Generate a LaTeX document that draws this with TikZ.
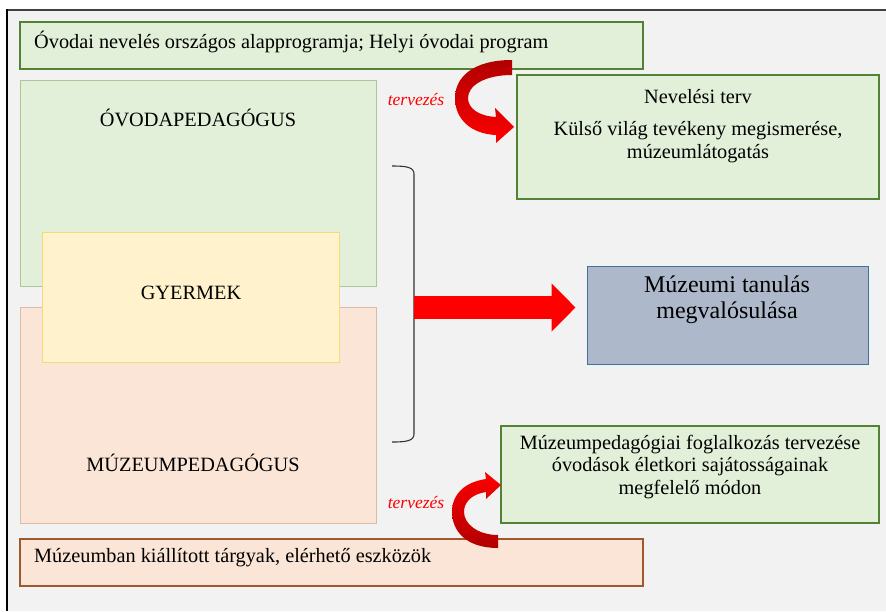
\documentclass[tikz,border=0pt]{standalone}
\usepackage{fontspec}
\setmainfont{Liberation Serif}
\usetikzlibrary{arrows.meta}
\definecolor{lapgray}{HTML}{F2F2F2}
\definecolor{zoldfill}{HTML}{E2F0D9}
\definecolor{zoldline}{HTML}{548235}
\definecolor{zoldhalv}{HTML}{A9C79B}
\definecolor{barackfill}{HTML}{FBE5D6}
\definecolor{barackhalv}{HTML}{D9BBA8}
\definecolor{barackline}{HTML}{A0582F}
\definecolor{sargafill}{HTML}{FFF2CC}
\definecolor{sargaline}{HTML}{F7D877}
\definecolor{kekfill}{HTML}{ADB9CA}
\definecolor{kekline}{HTML}{41719C}
\definecolor{sotetpiros}{HTML}{B00000}
\tikzset{
  doboz/.style={rectangle, inner sep=0pt, line width=1.2pt},
  szoveg/.style={inner sep=0pt, align=center, font=\fontsize{20.3}{22.5}\selectfont},
  tervfelirat/.style={inner sep=0pt, text=red, font=\fontsize{17.5}{20}\selectfont\itshape},
  nagynyil/.style={red, line width=23pt, -{Triangle[length=24pt,width=47pt]}}
}
\begin{document}
\begin{tikzpicture}[x=1pt,y=-1pt]
\useasboundingbox (0,0) rectangle (886,611);
\fill[lapgray] (7,10) rectangle (886,611);
\draw[line width=2pt, black!75] (6,10) -- (886,10);
\draw[line width=2pt, black] (7,9) -- (7,611);

\node[doboz, fill=zoldfill, draw=zoldline, minimum width=623pt, minimum height=47pt] (alap) at (331.5,45.5) {};
\node[szoveg, anchor=west] (alap szoveg) at (34,42) {Óvodai nevelés országos alapprogramja; Helyi óvodai program};

\node[doboz, fill=zoldfill, draw=zoldhalv, line width=1pt, minimum width=356pt, minimum height=206pt] (ovoda) at (198,183) {};
\node[szoveg] (ovoda szoveg) at (198,118) {ÓVODAPEDAGÓGUS};
\node[doboz, fill=barackfill, draw=barackhalv, line width=1pt, minimum width=356pt, minimum height=216pt] (muzeum) at (198,415) {};
\node[szoveg] (muzeum szoveg) at (193,463) {MÚZEUMPEDAGÓGUS};
\node[doboz, fill=sargafill, draw=sargaline, line width=1pt, minimum width=297pt, minimum height=130pt] (gyermek) at (190.5,297) {};
\node[szoveg] (gyermek szoveg) at (191,293) {GYERMEK};

\node[doboz, fill=zoldfill, draw=zoldline, minimum width=362pt, minimum height=124pt] (terv) at (698,137) {};
\node[szoveg] (terv cim) at (698,97) {Nevelési terv};
\node[szoveg] (terv szoveg) at (698,142) {Külső világ tevékeny megismerése,\\múzeumlátogatás};

\node[doboz, fill=kekfill, draw=kekline, line width=1pt, minimum width=281pt, minimum height=98pt] (tanulas) at (727.5,315) {};
\node[szoveg, font=\fontsize{24}{26}\selectfont] (tanulas szoveg) at (727,300) {Múzeumi tanulás\\megvalósulása};

\node[doboz, fill=zoldfill, draw=zoldline, minimum width=378pt, minimum height=97pt] (foglalkozas) at (690,474.5) {};
\node[szoveg] (foglalkozas szoveg) at (690,467) {Múzeumpedagógiai foglalkozás tervezése\\óvodások életkori sajátosságainak\\megfelelő módon};

\node[doboz, fill=barackfill, draw=barackline, minimum width=623pt, minimum height=47pt] (targyak) at (331.5,562.5) {};
\node[szoveg, anchor=west] (targyak szoveg) at (34,558) {Múzeumban kiállított tárgyak, elérhető eszközök};

\coordinate (kapocs) at (414,307.5);
\draw[line width=1.1pt, black!80] (392,166) .. controls (406,166) and (414,167) .. (414,174) -- (kapocs) -- (414,434) .. controls (414,441) and (406,442) .. (392,442);
\draw[nagynyil] (kapocs) -- ([xshift=-11pt]tanulas.west |- kapocs);

\shade[top color=sotetpiros, middle color=red, bottom color=red] (512,60) .. controls (472,60) and (455,78) .. (455,98) .. controls (455,120) and (472,134) .. (496,135) -- (496,143) -- (514,127) -- (495,108) -- (496,117) .. controls (478,116) and (468,108) .. (468,98) .. controls (468,86) and (484,75) .. (512,75) -- cycle;
\node[tervfelirat] (terv nyil) at (416,100) {tervezés};

\shade[top color=red, middle color=red, bottom color=sotetpiros] (498,548) .. controls (465,548) and (452,530) .. (452,512) .. controls (452,494) and (465,482) .. (486,479) -- (485,472) -- (501,485) -- (486,499) -- (486,492) .. controls (472,494) and (464,502) .. (464,512) .. controls (464,524) and (478,535) .. (498,535) -- cycle;
\node[tervfelirat] (foglalkozas nyil) at (416,502) {tervezés};
\end{tikzpicture}
\end{document}
